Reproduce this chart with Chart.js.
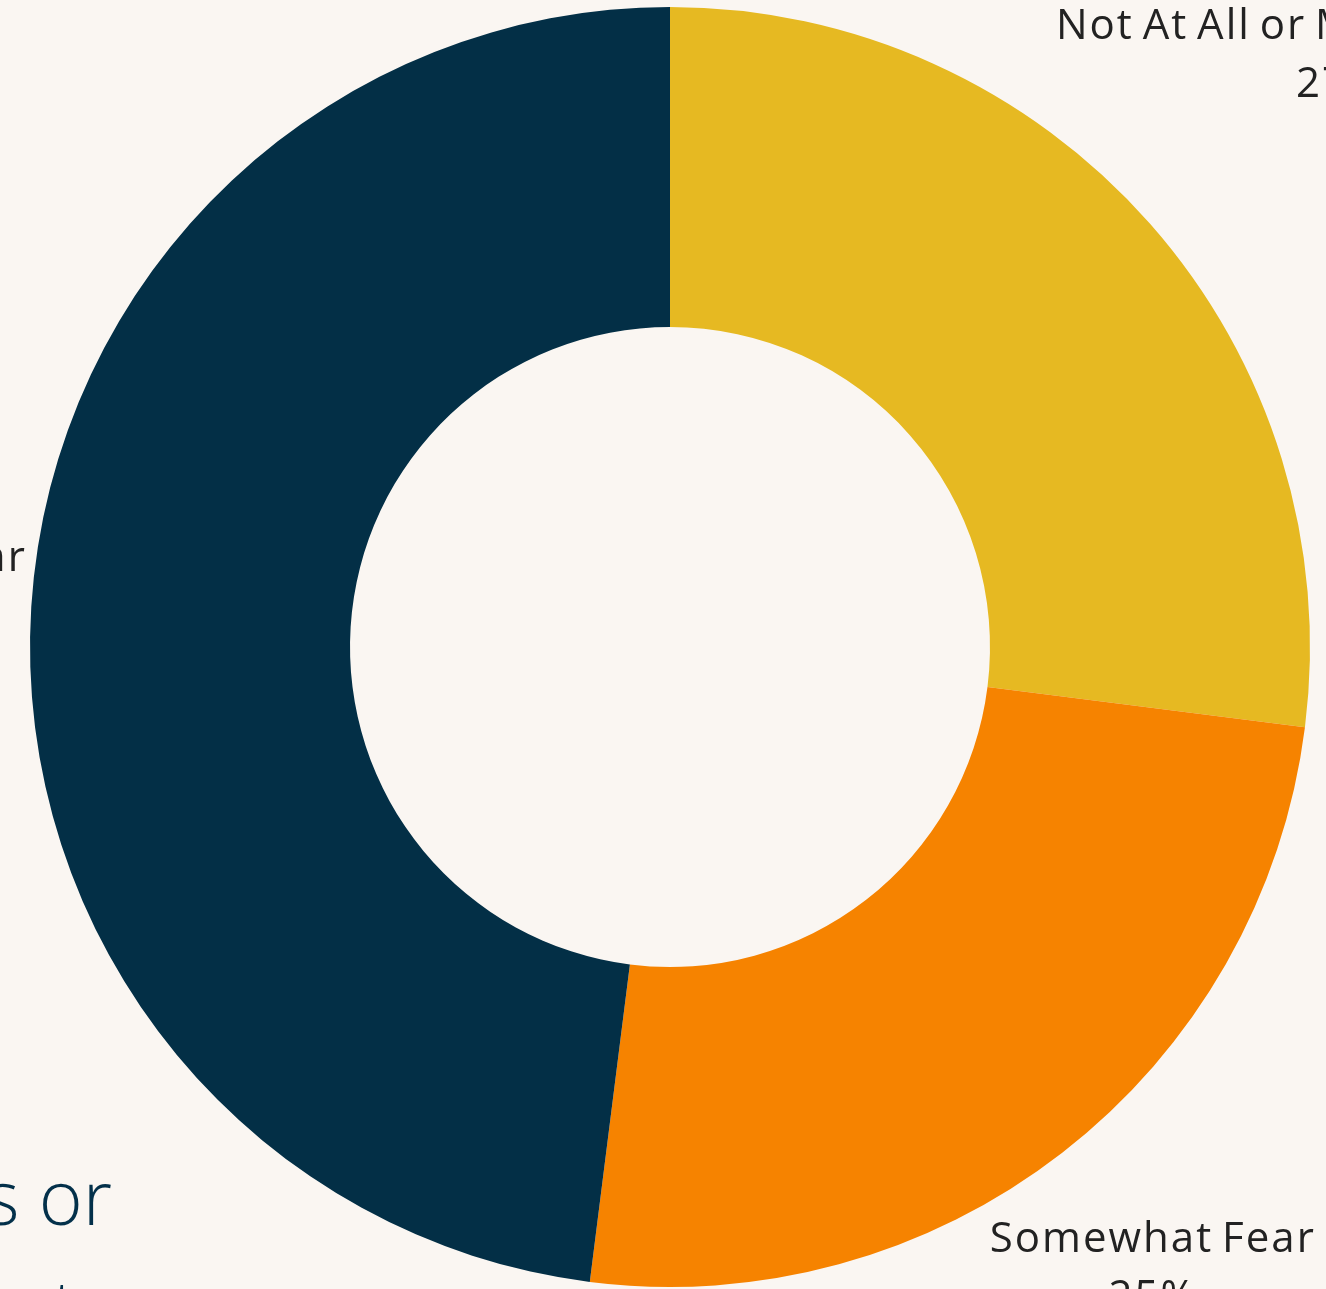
<!DOCTYPE html>
<html>
<head>
<meta charset="utf-8">
<script src="https://cdn.jsdelivr.net/npm/chart.js@4.4.1/dist/chart.umd.min.js"></script>
<style>
  html, body { margin: 0; padding: 0; background: #faf6f2; overflow: hidden; width: 1326px; height: 1289px; }
  #wrap { position: absolute; left: -330px; top: -353px; width: 2000px; height: 2000px; }
  #side {
    position: absolute; right: 1214px; top: 1141px;
    font-family: "Open Sans", sans-serif; font-weight: 300; font-size: 75px; line-height: 110px;
    color: #03304a; text-align: right; white-space: pre;
  }
</style>
</head>
<body>
<div id="side">Illness or
Poverty</div>
<div id="wrap"><canvas id="fear-chart"></canvas></div>
<script>
const CTX = document.getElementById('fear-chart');

// data
const categories = ['Not At All or Minimally Fear', 'Somewhat Fear', 'Very Much or Extremely Fear'];
const shares = [27, 25, 48];
const colours = ['#e6b922', '#f68300', '#032f46'];

// draw the category + percent outside each slice
const outsideLabels = {
  id: 'outsideLabels',
  afterDatasetsDraw(chart) {
    const ctx = chart.ctx;
    const meta = chart.getDatasetMeta(0);
    const lineH = 58;
    ctx.save();
    ctx.font = '42px "Open Sans", sans-serif';
    ctx.letterSpacing = '2px';
    ctx.wordSpacing = '-4px';
    ctx.fillStyle = '#222222';
    ctx.textAlign = 'center';
    ctx.textBaseline = 'middle';
    meta.data.forEach((arc, i) => {
      const p = arc.getProps(['x', 'y', 'startAngle', 'endAngle', 'outerRadius'], true);
      const mid = (p.startAngle + p.endAngle) / 2;
      const ux = Math.cos(mid), uy = Math.sin(mid);
      const line1 = chart.data.labels[i];
      const line2 = chart.data.datasets[0].data[i] + '%';
      const w = Math.max(ctx.measureText(line1).width, ctx.measureText(line2).width);
      const h = lineH * 2;
      const d = p.outerRadius + 2 + Math.abs(ux) * w / 2 + Math.abs(uy) * h / 2;
      const cx = p.x + ux * d, cy = p.y + uy * d;
      ctx.fillText(line1, cx, cy - lineH / 2);
      ctx.fillText(line2, cx, cy + lineH / 2);
    });
    ctx.restore();
  }
};

new Chart(CTX, {
  type: 'doughnut',
  data: {
    labels: categories,
    datasets: [{
      data: shares,
      backgroundColor: colours,
      borderWidth: 0
    }]
  },
  options: {
    responsive: true,
    maintainAspectRatio: false,
    animation: false,
    cutout: '50%',
    layout: { padding: 360 },
    plugins: {
      legend: { display: false },
      tooltip: { enabled: false }
    }
  },
  plugins: [outsideLabels]
});
</script>
</body>
</html>
